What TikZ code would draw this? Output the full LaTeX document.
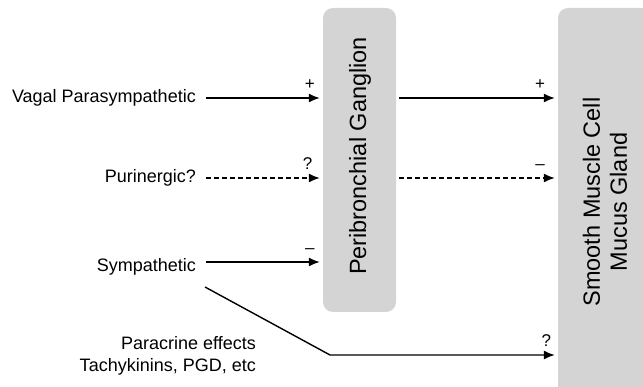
\documentclass[tikz,border=0pt]{standalone}
\usepackage{fontspec}
\setmainfont{Liberation Sans}
\usetikzlibrary{arrows.meta,shapes,calc}
\definecolor{boxgray}{RGB}{212,212,212}

\begin{document}
\begin{tikzpicture}[x=1pt, y=-1pt,
  box/.style={fill=boxgray, rounded corners=10pt, inner sep=0},
  boxtext/.style={font=\fontsize{23.5}{27}\selectfont, rotate=90, align=center},
  lbl/.style={font=\fontsize{18}{22}\selectfont, anchor=east, inner sep=1pt},
  sgn/.style={font=\fontsize{17}{18}\selectfont, above, yshift=4pt},
  link/.style={-{Latex[length=11pt,width=9pt]}, line width=1.4pt},
  dlink/.style={link, dash pattern=on 5pt off 3pt}]
\clip (0,0) rectangle (643,387);
\node[box, minimum width=73, minimum height=304] (gang) at (359.5,160) {};
\node[boxtext] (gangtext) at (360,156) {Peribronchial Ganglion};
\node[box, minimum width=110, minimum height=392] (gland) at (613,204) {};
\node[boxtext] (glandtext) at (605,202) {Smooth Muscle Cell\\Mucus Gland};
\node[lbl] (vagal) at (197,98) {Vagal Parasympathetic};
\node[lbl] (puri) at (197,178) {Purinergic?};
\node[lbl] (symp) at (197,267) {Sympathetic};
\node[lbl, align=right] (para) at (257,356) {Paracrine effects\\Tachykinins, PGD, etc};
\coordinate (symptail) at ([shift={(9,-5)}]symp.east);
\coordinate (paratail) at ([shift={(8,20)}]symp.east);
\coordinate (bend) at (330,355);
% into the ganglion
\draw[link, shorten >=3pt] ([xshift=9pt]vagal.east) -- node[sgn, pos=0.89] {+} (gang.west |- vagal.east);
\draw[dlink, shorten >=3pt] ([xshift=9pt]puri.east) -- node[sgn, pos=0.87] {?} (gang.west |- puri.east);
\draw[link, shorten >=3pt] (symptail) -- node[sgn, pos=0.89] {--} (gang.west |- symptail);
% onto the gland
\draw[link, shorten <=3pt, shorten >=3pt] (gang.east |- vagal.east) -- node[sgn, pos=0.89] {+} (gland.west |- vagal.east);
\draw[dlink, shorten <=3pt, shorten >=3pt] (gang.east |- puri.east) -- node[sgn, pos=0.89] {--} (gland.west |- puri.east);
\draw[link, shorten >=3pt] (paratail) -- (bend) -- node[sgn, pos=0.95] {?} (gland.west |- bend);
\end{tikzpicture}
\end{document}
